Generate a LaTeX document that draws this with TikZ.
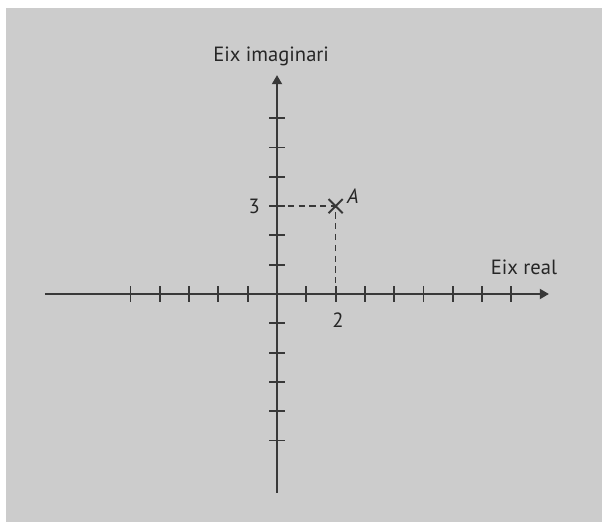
\documentclass[tikz,border=0pt]{standalone}
\usepackage{fontspec}
\setmainfont{PT Sans}
\usetikzlibrary{positioning,arrows.meta}

\begin{document}
\begin{tikzpicture}[font=\fontsize{20}{23}\selectfont,text=black!85,
  axis/.style={line width=1.9pt,draw=black!78,-{Triangle[length=3.1mm,width=3.4mm]}},
  tick/.style={line width=1.9pt,draw=black!78},
  guide/.style={line width=1.6pt,draw=black!78,dash pattern=on 6pt off 4.5pt}]
\useasboundingbox (-9.454,-7.782) rectangle (11.092,10.034);
\fill[white] (-9.454,-7.782) rectangle (11.092,10.034);
\fill[black!20] (-9.249,-7.782) rectangle (11.092,9.761);
\coordinate (xl) at (-7.92,0);
\coordinate (xr) at (9.28,0);
\coordinate (yb) at (0,-6.79);
\coordinate (yt) at (0,7.47);
\draw[axis] (xl) -- (xr);
\draw[axis] (yb) -- (yt);
% ticks
\foreach \i in {-5,...,-1,1,2,...,8} \draw[tick] (\i,-0.27) -- (\i,0.27);
\foreach \j in {-5,...,-1,1,2,...,6} \draw[tick] (-0.27,\j) -- (0.27,\j);
\coordinate (A) at (2,3);
\coordinate (a3) at (0,3);
\coordinate (a2) at (2,0);
\draw[guide] (a3) -- (A) -- (a2);
\draw[tick] ([shift={(-0.24,-0.24)}]A) -- ([shift={(0.24,0.24)}]A)
            ([shift={(-0.24,0.24)}]A) -- ([shift={(0.24,-0.24)}]A);
\node (ptA) at (2.59,3.33) {\itshape A};
\node (lab3) [anchor=east,inner sep=0pt] at (-0.58,3) {3};
\node (lab2) [anchor=north,inner sep=0pt] at (2.08,-0.62) {2};
\node (im) [anchor=base] at (-0.2,7.95) {Eix imaginari};
\node (re) [anchor=base] at (8.43,0.65) {Eix real};
\end{tikzpicture}
\end{document}
